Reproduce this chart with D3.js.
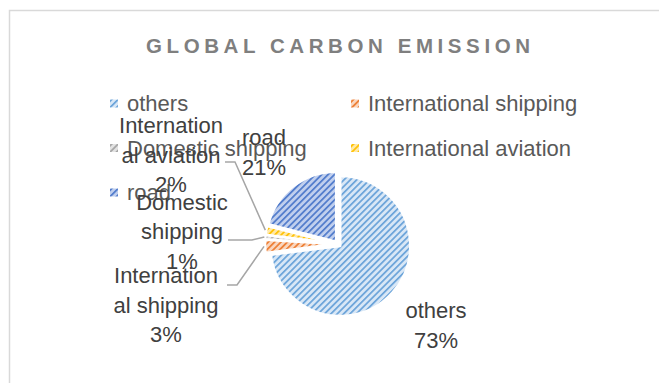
<!DOCTYPE html>
<html>
<head>
<meta charset="utf-8">
<script src="https://cdn.jsdelivr.net/npm/d3@7"></script>
<style>
  html, body { margin: 0; padding: 0; background: #ffffff; }
  svg { display: block; }
  text { font-family: "Liberation Sans", Arial, sans-serif; }
</style>
</head>
<body>
<svg id="chart" width="659" height="383"></svg>
<script>
// ---- data ----
const title = "GLOBAL CARBON EMISSION";
const categories = ["others", "International shipping", "Domestic shipping", "International aviation", "road"];
const values = [73, 3, 1, 2, 21];
const labelLines = [
  ["others", "73%"],
  ["Internation", "al shipping", "3%"],
  ["Domestic", "shipping", "1%"],
  ["Internation", "al aviation", "2%"],
  ["road", "21%"]
];
const colors = ["#6aa3d9", "#ed7d31", "#a5a5a5", "#ffc000", "#4f7acb"];
const tints  = ["#d8e7f6", "#f9d6bf", "#e3e3e3", "#ffe9a8", "#c0cfee"];

// ---- layout ----
const W = 659, H = 383;
const cx = 338, cy = 244, R = 70, explode = 3;
// label layout: text centre x, first baseline, and leader knee (label side)
const labelLayout = [
  { x: 436, y: 318, leader: null },
  { x: 166, y: 283, leader: [[227, 285], [237, 285]] },
  { x: 182, y: 209.5, leader: [[228, 240], [252, 240]] },
  { x: 171, y: 133, leader: [[225, 162], [235, 162]] },
  { x: 264, y: 145, leader: null }
];
const lineH = 29.5;

const svg = d3.select("#chart");
const defs = svg.append("defs");

// hatch patterns
categories.forEach((c, i) => {
  const p = defs.append("pattern")
    .attr("id", "pat" + i)
    .attr("patternUnits", "userSpaceOnUse")
    .attr("width", 4.5).attr("height", 4.5)
    .attr("patternTransform", "rotate(45)");
  p.append("rect").attr("width", 4.5).attr("height", 4.5).attr("fill", tints[i]);
  p.append("rect").attr("x", 0).attr("y", 0).attr("width", 1.7).attr("height", 4.5).attr("fill", colors[i]);
});

// chart frame
svg.append("rect")
  .attr("x", 9.5).attr("y", 10.5)
  .attr("width", W + 20).attr("height", H + 20)
  .attr("fill", "#ffffff")
  .attr("stroke", "#d9d9d9").attr("stroke-width", 1.5);

// title
const t = svg.append("text")
  .attr("x", 146).attr("y", 53)
  .attr("font-size", 20.5).attr("font-weight", "bold")
  .attr("fill", "#7f7f7f")
  .text(title);
{
  const target = 384;
  const n = title.length;
  const w0 = t.node().getComputedTextLength();
  const ls = (target - w0) / (n - 1);
  t.attr("letter-spacing", ls);
}

// legend
const legendCols = [110, 351];
const legendRows = [111, 155.5, 200];
const lg = svg.append("g");
categories.forEach((c, i) => {
  const col = i % 2, row = Math.floor(i / 2);
  const g = lg.append("g");
  g.append("rect")
    .attr("x", legendCols[col]).attr("y", legendRows[row] - 11.5)
    .attr("width", 8).attr("height", 8)
    .attr("fill", "url(#pat" + i + ")");
  g.append("text")
    .attr("x", legendCols[col] + 17).attr("y", legendRows[row])
    .attr("font-size", 22).attr("fill", "#595959")
    .text(c);
});

// pie
const pie = d3.pie().sort(null).value(d => d)(values);
const arc = d3.arc().innerRadius(0).outerRadius(R);
const pg = svg.append("g").attr("transform", `translate(${cx},${cy})`);
pg.selectAll("path").data(pie).join("path")
  .attr("d", arc)
  .attr("transform", d => {
    const m = (d.startAngle + d.endAngle) / 2;
    return `translate(${explode * Math.sin(m)},${-explode * Math.cos(m)})`;
  })
  .attr("fill", (d, i) => "url(#pat" + i + ")")
  .attr("stroke", "#ffffff").attr("stroke-width", 2.5)
  .attr("stroke-linejoin", "round");

// leader lines
pie.forEach((d, i) => {
  const L = labelLayout[i];
  if (!L.leader) return;
  const m = (d.startAngle + d.endAngle) / 2;
  const rr = R + explode + 1;
  const px = cx + rr * Math.sin(m), py = cy - rr * Math.cos(m);
  const pts = [L.leader[0], L.leader[1], [px, py]];
  svg.append("path")
    .attr("d", d3.line()(pts))
    .attr("fill", "none")
    .attr("stroke", "#a6a6a6").attr("stroke-width", 1.5);
});

// data labels
labelLines.forEach((lines, i) => {
  const L = labelLayout[i];
  const tx = svg.append("text")
    .attr("text-anchor", "middle")
    .attr("font-size", 22).attr("fill", "#404040");
  lines.forEach((s, j) => {
    tx.append("tspan").attr("x", L.x).attr("y", L.y + j * lineH).text(s);
  });
});
</script>
</body>
</html>
